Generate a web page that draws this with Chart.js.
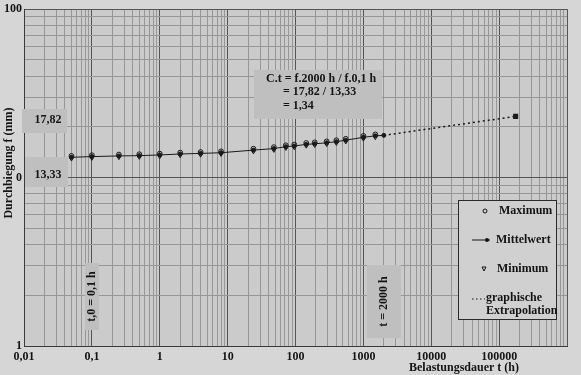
<!DOCTYPE html>
<html><head><meta charset="utf-8">
<script src="https://cdn.jsdelivr.net/npm/chart.js@4/dist/chart.umd.min.js"></script>
<style>html,body{margin:0;padding:0;background:#d6d6d6;}#wrap{width:581px;height:375px;position:relative;}</style>
</head><body><div id="wrap"><canvas id="c" width="581" height="375"></canvas></div>
<script>
// ---- data ----
const hours    = [0.05, 0.1, 0.25, 0.5, 1, 2, 4, 8, 24, 48, 72, 96, 144, 192, 288, 400, 550, 1000, 1500, 2000];
const meanVals = [13.20, 13.33, 13.45, 13.50, 13.63, 13.81, 13.92, 14.05, 14.56, 14.87, 15.26, 15.41, 15.75, 15.88, 16.09, 16.34, 16.68, 17.34, 17.70, 17.82];
const maxVals  = [13.45, 13.58, 13.70, 13.76, 13.88, 14.07, 14.18, 14.32, 14.84, 15.16, 15.55, 15.71, 16.05, 16.19, 16.40, 16.66, 17.00, 17.68, 18.05, null];
const minVals  = [12.96, 13.08, 13.20, 13.25, 13.38, 13.55, 13.66, 13.79, 14.29, 14.59, 14.97, 15.12, 15.45, 15.58, 15.78, 16.03, 16.36, 17.01, 17.36, null];
const extrapHours = [2000, 175200];
const extrapVals  = [17.82, 23.1];
const xDecades    = [0.01, 0.1, 1, 10, 100, 1000, 10000, 100000, 1000000];
const xTickLabels = ['0,01', '0,1', '1', '10', '100', '1000', '10000', '100000', ''];
const yDecades    = [1, 10, 100];
const yTickLabels = ['1', '0', '100'];
const seriesNames = ['Maximum', 'Mittelwert', 'Minimum', 'graphische Extrapolation'];

const FONT = 'bold 12px "Liberation Serif", "DejaVu Serif", serif';
const INK = '#141414';

function buildLogTicks(decades) {
  const t = [];
  decades.forEach((d, i) => {
    t.push({ value: d });
    if (i < decades.length - 1) for (let k = 2; k <= 9; k++) t.push({ value: d * k });
  });
  return t;
}
function decadeIndex(list, v) {
  for (let i = 0; i < list.length; i++) if (Math.abs(Math.log10(v) - Math.log10(list[i])) < 1e-9) return i;
  return -1;
}

const toPts = (xs, ys) => xs.map((x, i) => ({ x: x, y: ys[i] }));

const decor = {
  id: 'decor',
  beforeDraw(chart) {
    const c = chart.ctx, a = chart.chartArea;
    c.save();
    c.fillStyle = '#d6d6d6';
    c.fillRect(0, 0, chart.width, chart.height);
    c.fillStyle = '#cbcbcb';
    c.fillRect(a.left, a.top, a.right - a.left, a.bottom - a.top);
    c.restore();
  },
  beforeDatasetsDraw(chart) {
    const c = chart.ctx, a = chart.chartArea, xs = chart.scales.x;
    c.save();
    const box = (x, y, w, h) => { c.fillStyle = '#bfbfbf'; c.fillRect(x, y, w, h); };
    c.font = FONT; c.fillStyle = INK;
    // value boxes on the left
    box(a.left - 2, 109, 45, 24);
    box(a.left + 1, 157, 43, 30);
    c.fillStyle = INK; c.textAlign = 'center'; c.textBaseline = 'middle';
    c.fillText('17,82', a.left + 24, 120);
    c.fillText('13,33', a.left + 24, 175);
    // C.t box
    box(254, 70, 128, 49);
    c.fillStyle = INK; c.textAlign = 'left';
    c.fillText('C.t = f.2000 h / f.0,1 h', 266, 79);
    c.fillText('= 17,82 / 13,33', 283, 92);
    c.fillText('= 1,34', 283, 106);
    // vertical time boxes
    const vbox = (t, txt, w, y0, y1) => {
      const px = xs.getPixelForValue(t);
      box(px - w / 2, y0, w, y1 - y0);
      c.save(); c.translate(px, (y0 + y1) / 2); c.rotate(-Math.PI / 2);
      c.fillStyle = INK; c.textAlign = 'center'; c.textBaseline = 'middle';
      c.fillText(txt, 0, 0); c.restore();
    };
    vbox(0.1, 't,0 = 0,1 h', 14, 263, 330);
    vbox(2000, 't = 2000 h', 34, 265, 338);
    // legend
    c.fillStyle = '#d0d0d0'; c.fillRect(458, 200, 99, 120);
    c.strokeStyle = '#2a2a2a'; c.lineWidth = 1; c.strokeRect(458.5, 200.5, 98, 119);
    c.fillStyle = INK; c.textAlign = 'left'; c.textBaseline = 'middle';
    c.fillText(seriesNames[0], 499, 211);
    c.fillText(seriesNames[1], 496, 240);
    c.fillText(seriesNames[2], 497, 269);
    c.fillText('graphische', 486, 298);
    c.fillText('Extrapolation', 486, 311);
    c.strokeStyle = INK;
    c.beginPath(); c.arc(485, 211, 2, 0, Math.PI * 2); c.stroke();
    c.beginPath(); c.moveTo(472, 240); c.lineTo(490, 240); c.stroke();
    c.beginPath(); c.arc(487, 240, 2, 0, Math.PI * 2); c.fill();
    c.beginPath(); c.moveTo(482, 267); c.lineTo(486, 267); c.lineTo(484, 271); c.closePath(); c.stroke();
    c.setLineDash([1.5, 2.5]); c.beginPath(); c.moveTo(472, 299); c.lineTo(485, 299); c.stroke(); c.setLineDash([]);
    c.restore();
  },
  afterDraw(chart) {
    const c = chart.ctx;
    c.save();
    c.font = FONT; c.fillStyle = INK; c.textAlign = 'center'; c.textBaseline = 'middle';
    c.fillText('Belastungsdauer t (h)', 464, 368);
    c.translate(9, 163); c.rotate(-Math.PI / 2);
    c.fillText('Durchbiegung f (mm)', 0, 0);
    c.restore();
  }
};

const tickFont = { family: '"Liberation Serif", "DejaVu Serif", serif', weight: 'bold', size: 12 };

new Chart(document.getElementById('c'), {
  type: 'line',
  data: {
    datasets: [
      { label: seriesNames[3], data: toPts(extrapHours, extrapVals), borderColor: '#1a1a1a', borderWidth: 1.5,
        borderDash: [2, 3], pointRadius: [0, 2.5], pointStyle: 'rect', pointBackgroundColor: '#1a1a1a',
        pointBorderColor: '#1a1a1a', fill: false, tension: 0 },
      { label: seriesNames[1], data: toPts(hours, meanVals), borderColor: '#1a1a1a', borderWidth: 1,
        pointRadius: 2, pointStyle: 'circle', pointBackgroundColor: '#1a1a1a', pointBorderColor: '#1a1a1a',
        fill: false, tension: 0 },
      { label: seriesNames[0], data: toPts(hours, maxVals), showLine: false, pointRadius: 2.4,
        pointStyle: 'circle', pointBackgroundColor: 'rgba(0,0,0,0)', pointBorderColor: '#1a1a1a', pointBorderWidth: 1 },
      { label: seriesNames[2], data: toPts(hours, minVals), showLine: false, pointRadius: 2.4,
        pointStyle: 'triangle', rotation: 180, pointBackgroundColor: 'rgba(0,0,0,0)', pointBorderColor: '#1a1a1a', pointBorderWidth: 1 }
    ]
  },
  options: {
    responsive: false, animation: false, devicePixelRatio: 1,
    layout: { padding: { top: 4, right: 14, left: 0, bottom: 0 } },
    plugins: { legend: { display: false }, tooltip: { enabled: false } },
    scales: {
      x: {
        type: 'logarithmic', min: 0.01, max: 1000000,
        afterBuildTicks: s => { s.ticks = buildLogTicks(xDecades); },
        afterFit: s => { s.height = 29; },
        ticks: { autoSkip: false, maxRotation: 0, minRotation: 0, padding: 4, color: INK, font: tickFont,
          callback: v => { const i = decadeIndex(xDecades, v); return i >= 0 ? xTickLabels[i] : ''; } },
        grid: { drawTicks: false, lineWidth: 1,
          color: ctx => decadeIndex(xDecades, ctx.tick.value) >= 0 ? '#555555' : '#979797' },
        border: { display: true, color: '#3a3a3a', width: 1 }
      },
      y: {
        type: 'logarithmic', min: 1, max: 100,
        afterBuildTicks: s => { s.ticks = buildLogTicks(yDecades); },
        afterFit: s => { s.width = 24; },
        ticks: { autoSkip: false, padding: 2, color: INK, font: tickFont,
          callback: v => { const i = decadeIndex(yDecades, v); return i >= 0 ? yTickLabels[i] : ''; } },
        grid: { drawTicks: false, lineWidth: 1,
          color: ctx => decadeIndex(yDecades, ctx.tick.value) >= 0 ? '#555555' : '#979797' },
        border: { display: true, color: '#3a3a3a', width: 1 }
      }
    }
  },
  plugins: [decor]
});
</script></body></html>
